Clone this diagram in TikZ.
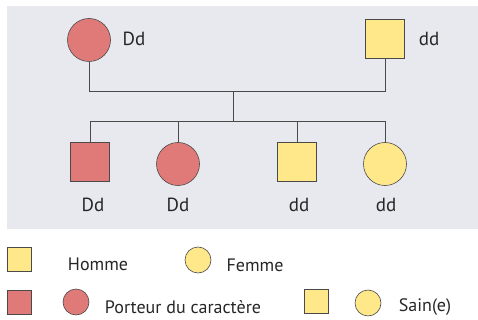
\documentclass[tikz,border=0pt]{standalone}
\usepackage{fontspec}
\setmainfont{PT Sans}
\definecolor{bg}{HTML}{E8E9EF}
\definecolor{redf}{HTML}{E07A78}
\definecolor{yelf}{HTML}{FFE88A}
\definecolor{linec}{HTML}{4A4A4A}
\begin{document}
\begin{tikzpicture}[x=1pt,y=-1pt,
  sq/.style={draw=linec,line width=0.6pt,minimum size=#1,inner sep=0pt,rectangle},
  ci/.style={draw=linec,line width=0.6pt,minimum size=#1,inner sep=0pt,circle},
  lab/.style={font=\fontsize{19}{19}\selectfont,text=black!85,inner sep=0pt},
  leg/.style={font=\fontsize{18}{18}\selectfont,text=black!85,inner sep=0pt},
  conn/.style={draw=linec,line width=0.8pt}]
\useasboundingbox (0,0) rectangle (478,320);
\fill[bg] (7,6) rectangle (478,229);
% parents
\node[ci=43pt,fill=redf] (m) at (89,40) {};
\node[sq=39pt,fill=yelf] (f) at (385,39) {};
\node[lab] at (134,39) {Dd};
\node[lab] at (429,39) {dd};
% children
\node[sq=39pt,fill=redf] (c1) at (90,162) {};
\node[ci=43pt,fill=redf] (c2) at (178,164) {};
\node[sq=39pt,fill=yelf] (c3) at (297,162) {};
\node[ci=43pt,fill=yelf] (c4) at (385,164) {};
\node[lab] at (93,205) {Dd};
\node[lab] at (178,205) {Dd};
\node[lab] at (299,205) {dd};
\node[lab] at (386,205) {dd};
% connectors
\coordinate (jl) at (89,91);
\coordinate (jr) at (385,91);
\coordinate (mid) at (233,91);
\coordinate (cm) at (233,121);
\coordinate (k1) at (90,121);
\coordinate (k2) at (178,121);
\coordinate (k3) at (297,121);
\coordinate (k4) at (385,121);
\draw[conn] (m.south) -- (jl) -- (jr) -- (f.south);
\draw[conn] (mid) -- (cm);
\draw[conn] (c1.north) -- (k1) -- (k4) -- (c4.north);
\draw[conn] (c2.north) -- (k2);
\draw[conn] (c3.north) -- (k3);
% legend
\node[sq=24pt,fill=yelf] (l1) at (19,259) {};
\node[leg] at (98,264) {Homme};
\node[ci=26pt,fill=yelf] (l2) at (198,260) {};
\node[leg] at (255,265) {Femme};
\node[sq=24pt,fill=redf] (l3) at (19,302) {};
\node[ci=26pt,fill=redf] (l4) at (76,302) {};
\node[leg] at (183,307) {Porteur du caractère};
\node[sq=24pt,fill=yelf] (l5) at (316,301) {};
\node[ci=26pt,fill=yelf] (l6) at (368,303) {};
\node[leg] at (425,307) {Sain(e)};
\end{tikzpicture}
\end{document}
